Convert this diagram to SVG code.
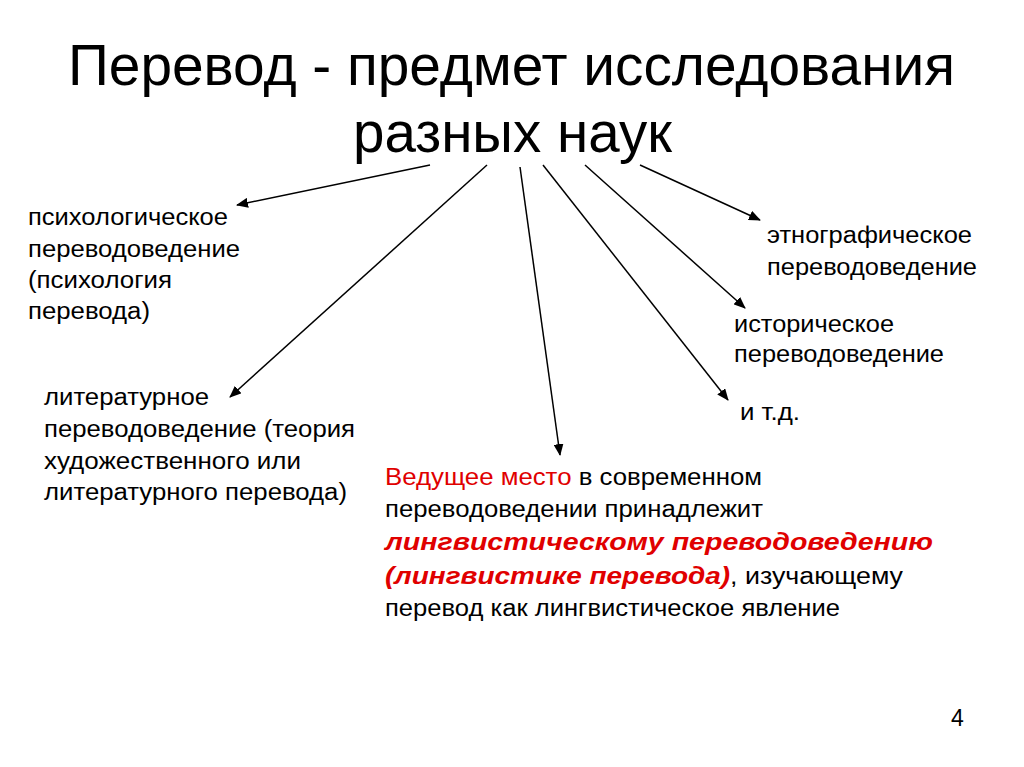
<svg xmlns="http://www.w3.org/2000/svg" width="1024" height="767" viewBox="0 0 1024 767">
<style>
.t{font-family:"Liberation Sans",Arial,sans-serif;font-size:23px;fill:#000}
.h{font-family:"Liberation Sans",Arial,sans-serif;font-size:58px;fill:#000}
.r{fill:#e00000}
.b{font-weight:bold;font-style:italic;font-size:24px}
line{stroke:#000;stroke-width:1.5;marker-end:url(#a)}
</style>
<defs><marker id="a" markerWidth="12" markerHeight="10" refX="11" refY="5" orient="auto" markerUnits="userSpaceOnUse"><path d="M0,0 L12,5 L0,10 Z" fill="#000"/></marker></defs>
<rect width="1024" height="767" fill="#fff"/>
<g id="title"><text class="h" x="68" y="85" textLength="887" lengthAdjust="spacingAndGlyphs">Перевод - предмет исследования</text><text class="h" x="353" y="152" textLength="319" lengthAdjust="spacingAndGlyphs">разных наук</text></g>
<g id="connectors">
<line x1="430" y1="165" x2="237" y2="205"/>
<line x1="487" y1="165" x2="230" y2="397"/>
<line x1="520" y1="167" x2="560" y2="455"/>
<line x1="543" y1="165" x2="728" y2="400"/>
<line x1="585" y1="165" x2="745" y2="308"/>
<line x1="640" y1="165" x2="760" y2="220"/>
</g>
<g id="psych"><text class="t" x="28" y="225" textLength="200" lengthAdjust="spacingAndGlyphs">психологическое</text><text class="t" x="28" y="257" textLength="212" lengthAdjust="spacingAndGlyphs">переводоведение</text><text class="t" x="28" y="288" textLength="144" lengthAdjust="spacingAndGlyphs">(психология</text><text class="t" x="28" y="319" textLength="122" lengthAdjust="spacingAndGlyphs">перевода)</text></g>
<g id="lit"><text class="t" x="44" y="405" textLength="165" lengthAdjust="spacingAndGlyphs">литературное</text><text class="t" x="44" y="437" textLength="311" lengthAdjust="spacingAndGlyphs">переводоведение (теория</text><text class="t" x="44" y="469" textLength="257" lengthAdjust="spacingAndGlyphs">художественного или</text><text class="t" x="44" y="500" textLength="303" lengthAdjust="spacingAndGlyphs">литературного перевода)</text></g>
<g id="ethno"><text class="t" x="767" y="243" textLength="205" lengthAdjust="spacingAndGlyphs">этнографическое</text><text class="t" x="767" y="275" textLength="210" lengthAdjust="spacingAndGlyphs">переводоведение</text></g>
<g id="hist"><text class="t" x="734" y="332" textLength="160" lengthAdjust="spacingAndGlyphs">историческое</text><text class="t" x="734" y="362" textLength="210" lengthAdjust="spacingAndGlyphs">переводоведение</text></g>
<g id="etc"><text class="t" x="740" y="420" textLength="60" lengthAdjust="spacingAndGlyphs">и т.д.</text></g>
<g id="ling">
<text class="t" x="385" y="485" textLength="377" lengthAdjust="spacingAndGlyphs"><tspan class="r">Ведущее место</tspan> в современном</text>
<text class="t" x="385" y="517" textLength="378" lengthAdjust="spacingAndGlyphs">переводоведении принадлежит</text>
<text class="t b r" x="385" y="550" textLength="548" lengthAdjust="spacingAndGlyphs">лингвистическому переводоведению</text>
<text class="t" x="385" y="584" textLength="518" lengthAdjust="spacingAndGlyphs"><tspan class="b r">(лингвистике перевода)</tspan>, изучающему</text>
<text class="t" x="385" y="616" textLength="455" lengthAdjust="spacingAndGlyphs">перевод как лингвистическое явление</text>
</g>
<g id="page"><text class="t" x="951" y="726">4</text></g>
</svg>
